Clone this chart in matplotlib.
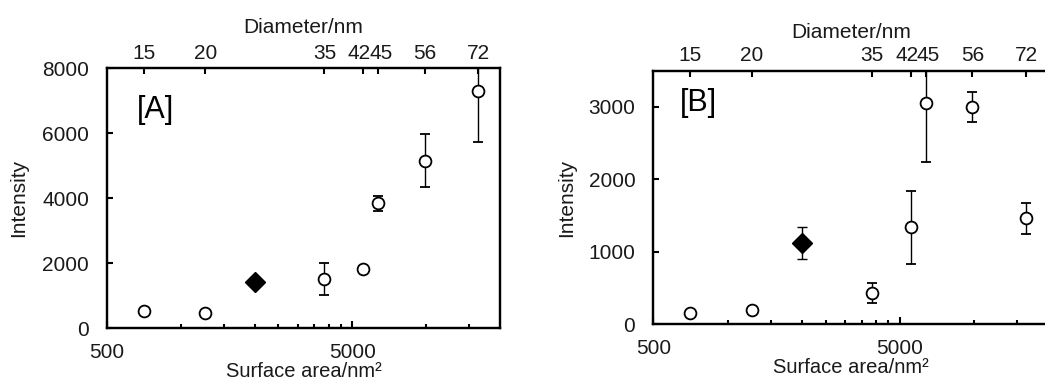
import numpy as np
import matplotlib
matplotlib.use('Agg')
import matplotlib.pyplot as plt
from matplotlib.ticker import FixedLocator, FixedFormatter, NullFormatter, NullLocator
from matplotlib.transforms import ScaledTranslation

plt.rcParams['font.family'] = ['Liberation Sans', 'DejaVu Sans']

# diameters of the particles (nm) and their surface areas (nm^2)
diam = np.array([15, 20, 35, 42, 45, 56, 72])
area = np.pi * diam ** 2
# reference particle (filled diamond)
ref_area = 2000

# panel A
int_a = [520, 475, 1500, 1830, 3840, 5150, 7310]
err_a = [60, 50, 490, 90, 230, 820, 1570]
ref_a, ref_err_a = 1420, 120

# panel B
int_b = [160, 200, 430, 1340, 3060, 3000, 1465]
err_b = [30, 30, 140, 505, 820, 205, 215]
ref_b, ref_err_b = 1120, 225

minor_x = [1000, 1500, 2000, 2500, 3000, 3500, 4000, 4500, 10000, 15000]
FS = 15
TC = '#1a1a1a'


def panel(pos, y, yerr, ry, ryerr, ymax, yticks, tag, tagpos, ylpad, dlpad):
    ax = fig.add_axes(pos)
    ax.errorbar(area, y, yerr=yerr, fmt='o', ms=8.5, mfc='white', mec='black',
                mew=1.3, ecolor='black', elinewidth=1, capsize=3.5, capthick=1,
                zorder=3)
    ax.errorbar([ref_area], [ry], yerr=[ryerr], fmt='D', ms=10.5, mfc='black',
                mec='black', ecolor='black', elinewidth=1, capsize=3.5,
                capthick=1, zorder=3)
    ax.set_xscale('log')
    ax.set_xlim(500, 20000)
    ax.set_ylim(0, ymax)
    ax.xaxis.set_major_locator(FixedLocator([500, 5000]))
    ax.xaxis.set_major_formatter(FixedFormatter(['500', '5000']))
    ax.xaxis.set_minor_locator(FixedLocator(minor_x))
    ax.xaxis.set_minor_formatter(NullFormatter())
    ax.set_yticks(yticks)
    ax.yaxis.set_minor_locator(NullLocator())
    ax.tick_params(axis='both', which='major', direction='in', length=4, width=1.5,
                   labelsize=FS, pad=13, colors='black', labelcolor=TC)
    ax.tick_params(axis='x', which='major', length=5, pad=10.5)
    ax.tick_params(axis='x', which='minor', direction='in', length=3, width=1.5)
    for s in ax.spines.values():
        s.set_linewidth(1.6)
    ax.set_xlabel('Surface area/nm²', fontsize=14.5, labelpad=0, color=TC)
    ax.set_ylabel('Intensity', fontsize=FS, labelpad=ylpad, color=TC)
    ax.text(tagpos[0], tagpos[1], tag, transform=ax.transAxes, fontsize=22,
            va='center', ha='left')

    top = ax.twiny()
    top.set_xscale('log')
    top.set_xlim(ax.get_xlim())
    top.xaxis.set_major_locator(FixedLocator(area))
    top.xaxis.set_major_formatter(FixedFormatter([str(d) for d in diam]))
    top.xaxis.set_minor_locator(NullLocator())
    top.tick_params(axis='x', which='major', direction='in', length=4, width=1.5,
                    labelsize=FS, pad=4, labelcolor=TC)
    top.set_xlabel('Diameter/nm', fontsize=FS, labelpad=dlpad, color=TC)
    for s in top.spines.values():
        s.set_linewidth(1.6)
    # the 42 and 45 labels sit side by side like "4245"
    fig.canvas.draw()
    labels = top.get_xticklabels()
    for lab, dx in ((labels[3], -4), (labels[4], 3)):
        lab.set_transform(lab.get_transform()
                          + ScaledTranslation(dx / 100, 0, fig.dpi_scale_trans))
    return ax


fig = plt.figure(figsize=(10.45, 3.83), dpi=100)
panel([0.1024, 0.1436, 0.3761, 0.6781], int_a, err_a, ref_a, ref_err_a,
      8000, [0, 2000, 4000, 6000, 8000], '[A]', (0.076, 0.838), 10, 8)
panel([0.6252, 0.1533, 0.3778, 0.6621], int_b, err_b, ref_b, ref_err_b,
      3500, [0, 1000, 2000, 3000], '[B]', (0.066, 0.871), 9, 6)

fig.savefig('out.png', dpi=100)
